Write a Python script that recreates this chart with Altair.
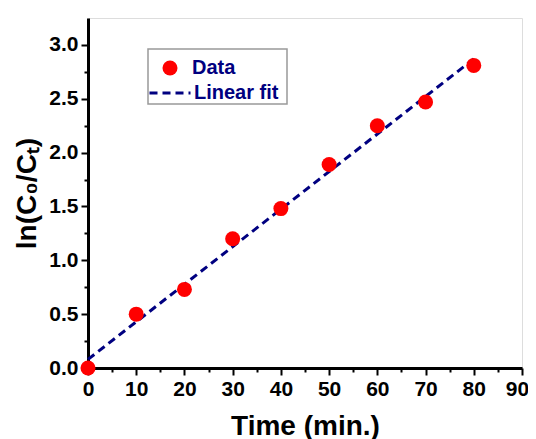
import altair as alt
import pandas as pd

time = [0, 10, 20, 30, 40, 50, 60, 70, 80]
lnc = [0.0, 0.50, 0.73, 1.20, 1.48, 1.89, 2.25, 2.47, 2.81]
fit_x = [0, 80]
fit_y = [0.08, 2.87]
x_major = [0, 10, 20, 30, 40, 50, 60, 70, 80]
x_last = [90]
x_minor = [5, 15, 25, 35, 45, 55, 65, 75, 85]
y_major = [0.0, 0.5, 1.0, 1.5, 2.0, 2.5, 3.0]
y_minor = [0.25, 0.75, 1.25, 1.75, 2.25, 2.75]

df = pd.DataFrame({"t": time, "y": lnc, "series": "Data"})
fit = pd.DataFrame({"t": fit_x, "y": fit_y, "series": "Linear fit"})

FONT = "Liberation Sans"
xs = alt.Scale(domain=[0, 90], nice=False)
ys = alt.Scale(domain=[0, 3.25], nice=False)

axis_common = dict(domainColor="black", domainWidth=3, tickColor="black", tickWidth=2,
                   labelFont=FONT, labelFontWeight="bold", labelFontSize=21, labelColor="black",
                   titleFont=FONT, titleFontWeight="bold", titleFontSize=28, titleColor="black",
                   grid=False, labelFlush=False)

xaxis = alt.Axis(values=x_major, tickSize=7, labelPadding=3, title="Time (min.)", titlePadding=13,
                 orient="bottom", **axis_common)
xaxis_last = alt.Axis(values=x_last, tickSize=7, labelPadding=3, title=None, domain=False,
                      labelOffset=-5, orient="bottom",
                      **{k: v for k, v in axis_common.items() if not k.startswith("title") and not k.startswith("domain")})
yaxis = alt.Axis(values=y_major, format=".1f", tickSize=7, labelPadding=3, title="ln(C₀/Cₜ)",
                 titlePadding=7, orient="left", **axis_common)

leg_font = dict(labelFont=FONT, labelFontWeight="bold", labelFontSize=20, labelColor="#000080",
                title=None, padding=0, orient="none")

line = alt.Chart(fit).mark_line(strokeDash=[8, 5], strokeWidth=3, clip=False, color="#000080").encode(
    x=alt.X("t:Q", scale=xs, axis=None),
    y=alt.Y("y:Q", scale=ys, axis=None),
    strokeDash=alt.StrokeDash("series:N", scale=alt.Scale(domain=["Linear fit"], range=[[8, 5]]),
                              legend=alt.Legend(legendX=60, legendY=53, symbolType="stroke",
                                                symbolStrokeColor="#000080", symbolStrokeWidth=3,
                                                symbolSize=1681, labelOffset=2, **leg_font)),
)

pts = alt.Chart(df).mark_circle(size=225, opacity=1, clip=False).encode(
    x=alt.X("t:Q", scale=xs, axis=None),
    y=alt.Y("y:Q", scale=ys, axis=None),
    color=alt.Color("series:N", scale=alt.Scale(domain=["Data"], range=["#ff0000"]),
                    legend=alt.Legend(legendX=72, legendY=40, symbolType="circle", symbolSize=225,
                                      symbolOpacity=1, labelOffset=12, **leg_font)),
)

minor_df = pd.DataFrame({"t": [0], "y": [0]})
major = alt.Chart(minor_df).mark_point(opacity=0).encode(
    x=alt.X("t:Q", scale=xs, axis=xaxis),
    y=alt.Y("y:Q", scale=ys, axis=yaxis),
)
last = alt.Chart(minor_df).mark_point(opacity=0).encode(
    x=alt.X("t:Q", scale=xs, axis=xaxis_last),
    y=alt.Y("y:Q", scale=ys, axis=None),
)
minor = alt.Chart(minor_df).mark_point(opacity=0).encode(
    x=alt.X("t:Q", scale=xs, axis=alt.Axis(values=x_minor, tickSize=4, tickWidth=2, tickColor="black",
                                           labels=False, domain=False, title=None, orient="bottom", grid=False)),
    y=alt.Y("y:Q", scale=ys, axis=alt.Axis(values=y_minor, tickSize=4, tickWidth=2, tickColor="black",
                                           labels=False, domain=False, title=None, orient="left", grid=False)),
)

box = alt.Chart(minor_df).mark_rect(fill="white", stroke="#999999", strokeWidth=1.5).encode(
    x=alt.value(60), x2=alt.value(199), y=alt.value(31), y2=alt.value(86)
)

chart = alt.layer(major, last, minor, box, line, pts).resolve_axis(x="independent", y="independent").resolve_legend(
    color="independent", strokeDash="independent"
).properties(
    width=434, height=350,
    autosize=alt.AutoSizeParams(type="none"),
    padding={"left": 80, "top": 10, "right": 6, "bottom": 72},
).configure_view(stroke="black", strokeWidth=3).configure(background="white")

chart.save("out.html", embed_options={"renderer": "svg", "actions": False})
